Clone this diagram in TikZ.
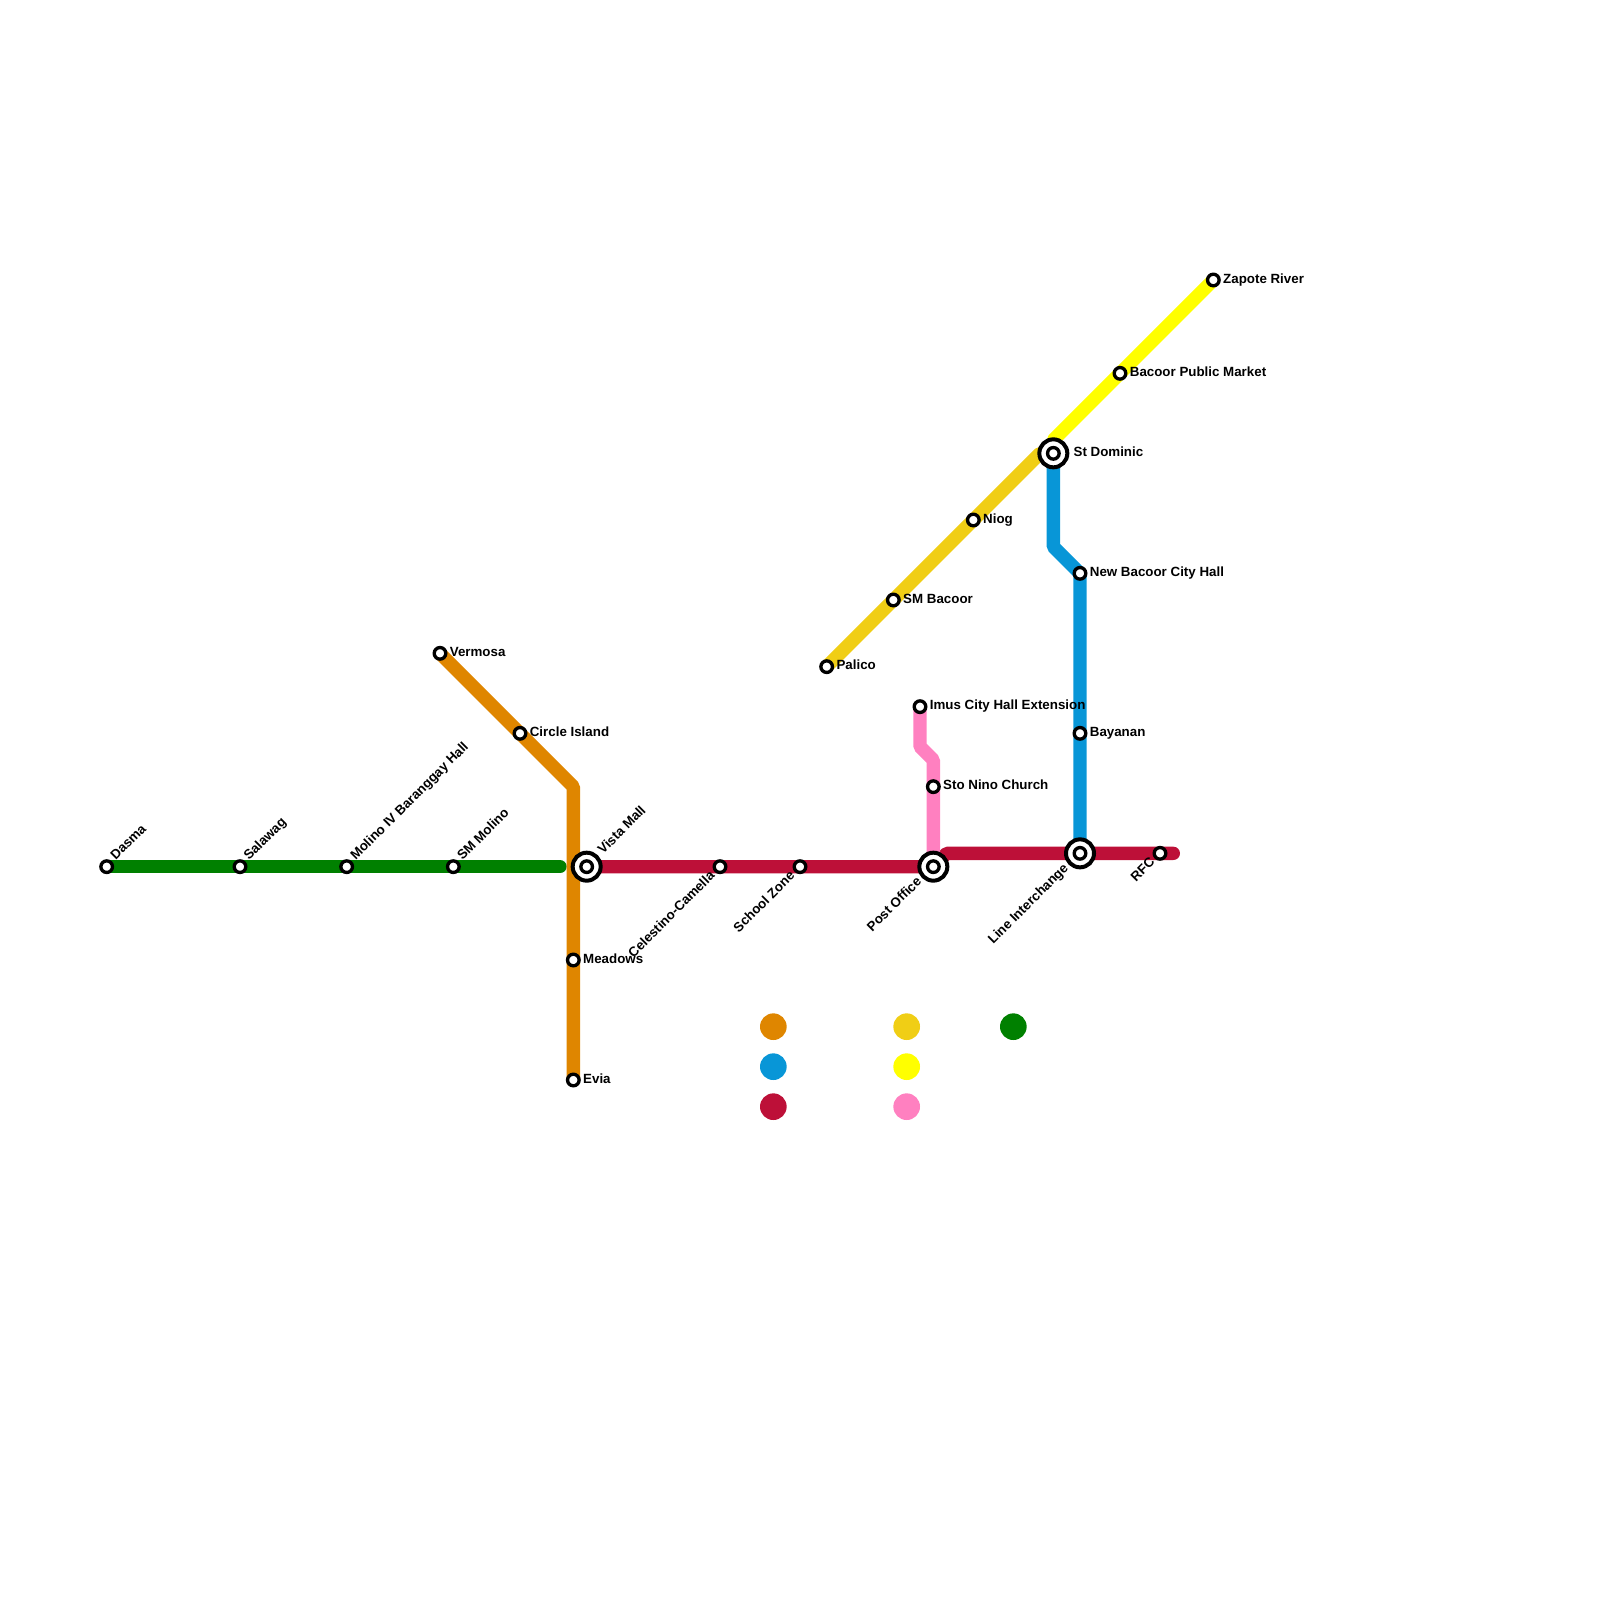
\documentclass[tikz,border=0pt]{standalone}
\usepackage{fontspec}
\setmainfont{Liberation Sans}
\usepackage{tikz}
\usetikzlibrary{positioning,backgrounds}
\definecolor{lineOrange}{HTML}{DF8600}
\definecolor{lineBlue}{HTML}{0896D7}
\definecolor{lineRed}{HTML}{BD1038}
\definecolor{lineGold}{HTML}{F0CE15}
\definecolor{lineYellow}{HTML}{FFFF00}
\definecolor{linePink}{HTML}{FF80C0}
\definecolor{lineGreen}{HTML}{008000}
\tikzset{
  stn/.style    ={circle,draw=black,fill=white,line width=2.5pt,minimum size=8.7pt,
                  inner sep=0pt},
  xchg/.style   ={circle,draw=black,fill=white,line width=3pt,minimum size=21pt,
                  inner sep=0pt},
  rte/.style    ={line width=10pt,line cap=round,line join=bevel},
  key/.style    ={circle,minimum size=20pt,inner sep=0pt},
  ann/.style    ={font=\fontsize{10}{12}\selectfont\bfseries,inner sep=0pt,
                  text height=7.3pt,text depth=2.4pt},
  annE/.style   ={ann,right=1.6pt of #1},
  annUp/.style  ={ann,shift={(5pt,6pt)},rotate=45,anchor=west},
  annDn/.style  ={ann,shift={(-5pt,-5.5pt)},rotate=45,anchor=east},
  annXUp/.style ={ann,shift={(10.5pt,10.5pt)},rotate=45,anchor=west},
  annXDn/.style ={ann,shift={(-10pt,-10pt)},rotate=45,anchor=east},
}
\begin{document}
\begin{tikzpicture}[x=10pt, y=-10pt]
\useasboundingbox (0,0) rectangle (120,120);

\node[stn] (dasma)   at (8,65) {};
\node[stn] (salawag) at (18,65) {};
\node[stn] (molino)  at (26,65) {};
\node[stn] (smmol)   at (34,65) {};
\coordinate (greenend) at (42,65);

\node[stn] (vermosa) at (33,49) {};
\node[stn] (circisl) at (39,55) {};
\coordinate (orangebend) at (43,59);
\node[stn] (meadows) at (43,72) {};
\node[stn] (evia)    at (43,81) {};

\node[xchg] (vista)  at (44,65) {};
\node[stn]  (vistaC) at (44,65) {};
\node[stn] (celest)  at (54,65) {};
\node[stn] (school)  at (60,65) {};
\node[xchg] (post)   at (70,65) {};
\node[stn]  (postC)  at (70,65) {};
\coordinate (redbend) at (71,64);
\node[xchg] (inter)  at (81,64) {};
\node[stn]  (interC) at (81,64) {};
\node[stn] (rfc)     at (87,64) {};
\coordinate (redend) at (88,64);

\node[stn] (imus)    at (69,53) {};
\coordinate (pinkA) at (69,56);
\coordinate (pinkB) at (70,57);
\node[stn] (stonino) at (70,59) {};

\node[stn] (palico)  at (62,50) {};
\node[stn] (smbac)   at (67,45) {};
\node[stn] (niog)    at (73,39) {};
\coordinate (goldbend) at (78,34);
\node[xchg] (domin)  at (79,34) {};
\node[stn]  (dominC) at (79,34) {};
\coordinate (yellowbend) at (79,33);
\node[stn] (pubmkt)  at (84,28) {};
\node[stn] (zapote)  at (91,21) {};

\coordinate (blueA) at (79,41);
\node[stn] (newbac)  at (81,43) {};
\node[stn] (bayanan) at (81,55) {};

%% routes go under the stations
\begin{scope}[on background layer]
\draw[rte,lineGreen] (dasma.center) -- (greenend);
\draw[rte,lineOrange] (vermosa.center) -- (circisl.center) -- (orangebend)
      -- (meadows.center) -- (evia.center);
\draw[rte,lineBlue] (domin.center) -- (blueA) -- (newbac.center) -- (inter.center);
\draw[rte,lineGold] (palico.center) -- (smbac.center) -- (niog.center) -- (goldbend) -- (domin.center);
\draw[rte,lineYellow] (domin.center) -- (yellowbend) -- (pubmkt.center) -- (zapote.center);
\draw[rte,lineRed] (vista.center) -- (post.center) -- (redbend) -- (redend);
\draw[rte,linePink] (imus.center) -- (pinkA) -- (pinkB) -- (post.center);
\end{scope}

\node[annUp] (dasmaL)   at (dasma) {Dasma};
\node[annUp] (salawagL) at (salawag) {Salawag};
\node[annUp] (molinoL)  at (molino) {Molino IV Baranggay Hall};
\node[annUp] (smmolL)   at (smmol) {SM Molino};
\node[annE=vermosa] (vermosaL) {Vermosa};
\node[annE=circisl] (circislL) {Circle Island};
\node[annE=meadows] (meadowsL) {Meadows};
\node[annE=evia]    (eviaL)    {Evia};
\node[annXUp] (vistaL)  at (vista) {Vista Mall};
\node[annDn]  (celestL) at (celest) {Celestino-Camella};
\node[annDn]  (schoolL) at (school) {School Zone};
\node[annXDn] (postL)   at (post) {Post Office};
\node[annXDn] (interL)  at (inter) {Line Interchange};
\node[annDn]  (rfcL)    at (rfc) {RFC};
\node[annE=imus]    (imusL)    {Imus City Hall Extension};
\node[annE=stonino] (stoninoL) {Sto Nino Church};
\node[annE=palico]  (palicoL)  {Palico};
\node[annE=smbac]   (smbacL)   {SM Bacoor};
\node[annE=niog]    (niogL)    {Niog};
\node[ann,right=3pt of domin] (dominL) {St Dominic};
\node[annE=pubmkt]  (pubmktL)  {Bacoor Public Market};
\node[annE=zapote]  (zapoteL)  {Zapote River};
\node[annE=newbac]  (newbacL)  {New Bacoor City Hall};
\node[annE=bayanan] (bayananL) {Bayanan};

%% colour key
\node[key,fill=lineOrange] (keyOrange) at (58,77) {};
\node[key,fill=lineBlue]   (keyBlue)   at (58,80) {};
\node[key,fill=lineRed]    (keyRed)    at (58,83) {};
\node[key,fill=lineGold]   (keyGold)   at (68,77) {};
\node[key,fill=lineYellow] (keyYellow) at (68,80) {};
\node[key,fill=linePink]   (keyPink)   at (68,83) {};
\node[key,fill=lineGreen]  (keyGreen)  at (76,77) {};

\end{tikzpicture}
\end{document}
